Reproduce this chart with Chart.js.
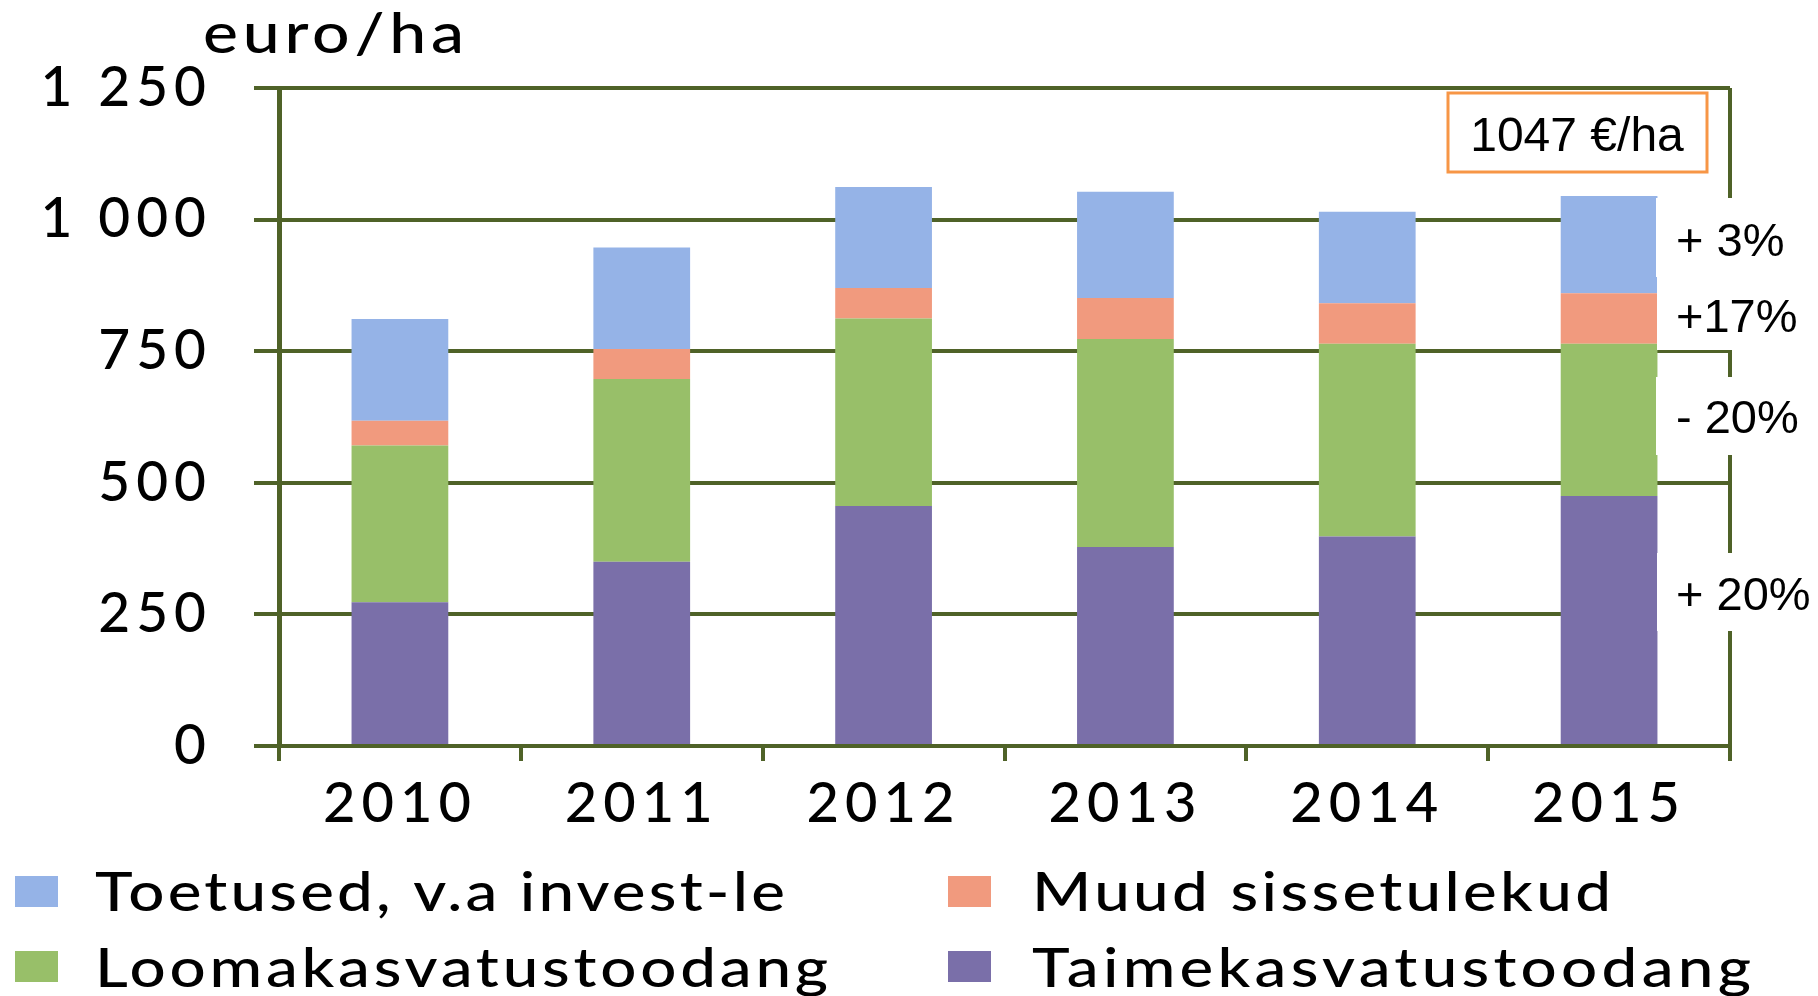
<!DOCTYPE html>
<html><head><meta charset="utf-8">
<script src="https://cdn.jsdelivr.net/npm/chart.js@4.4.1/dist/chart.umd.min.js"></script>
<style>html,body{margin:0;padding:0;background:#fff;overflow:hidden}#wrap{position:relative;width:1818px;height:996px}</style>
</head><body><div id="wrap"><canvas id="c" width="1818" height="996"></canvas></div>
<script>
// ---- data ----
const years = ['2010', '2011', '2012', '2013', '2014', '2015'];
const taimekasvatus = [273, 350, 456, 378, 398, 475];
const loomakasvatus = [298, 347, 356, 395, 366, 289];
const muudSissetulekud = [47, 57, 58, 78, 77, 96];
const toetused = [193, 193, 192, 202, 174, 185];
const yTickValues = [0, 250, 500, 750, 1000, 1250];
const yTickLabels = ['0', '250', '500', '750', '1 000', '1 250'];
const seriesLabels = ['Taimekasvatustoodang', 'Loomakasvatustoodang', 'Muud sissetulekud', 'Toetused, v.a invest-le'];
const yTitle = 'euro/ha';
const totalLabel = '1047 €/ha';
const changeLabels = ['+ 3%', '+17%', '- 20%', '+ 20%'];

// ---- styles ----
const OLIVE = '#4F6228';
const COLORS = ['#7A6FA9', '#98BF69', '#F19A7E', '#95B3E7'];
const FONT = 'Lato';

function fitText(ctx, text, x, y, width, sx) {
  ctx.save();
  ctx.letterSpacing = '0px';
  const w = ctx.measureText(text).width;
  const n = Array.from(text).length;
  const ls = n > 1 ? (width / sx - w) / (n - 1) : 0;
  ctx.letterSpacing = Math.max(0, ls).toFixed(2) + 'px';
  ctx.textAlign = 'left';
  ctx.translate(x, y);
  ctx.scale(sx, 1);
  ctx.fillText(text, 0, 0);
  ctx.restore();
}

const extras = {
  id: 'extras',
  beforeDraw(chart) { chart.ctx.letterSpacing = '6px'; },
  afterDraw(chart) {
    const ctx = chart.ctx;
    ctx.save();
    ctx.letterSpacing = '0px';
    ctx.textBaseline = 'alphabetic';
    ctx.fillStyle = '#000';
    // axis unit title
    ctx.font = '500 56px ' + FONT;
    fitText(ctx, yTitle, 203, 53, 261, 1.18);

    // white boxes behind change labels
    const boxes = [[1656, 198, 162, 79], [1657, 277, 161, 73], [1656, 377, 162, 78], [1657, 553, 161, 78]];
    ctx.fillStyle = '#fff';
    boxes.forEach(b => ctx.fillRect(b[0], b[1], b[2], b[3]));
    ctx.fillStyle = '#000';
    ctx.font = '47px "Liberation Sans", Arial, sans-serif';
    ctx.textAlign = 'left';
    const baselines = [256, 332, 433, 610];
    changeLabels.forEach((t, i) => ctx.fillText(t, 1676, baselines[i]));

    // total box
    ctx.fillStyle = '#fff';
    ctx.fillRect(1448, 93, 259, 79);
    ctx.strokeStyle = '#F79646';
    ctx.lineWidth = 3;
    ctx.strokeRect(1448, 93, 259, 79);
    ctx.fillStyle = '#000';
    ctx.font = '48px "Liberation Sans", Arial, sans-serif';
    ctx.textAlign = 'center';
    ctx.fillText(totalLabel, 1577, 151);

    // legend (two columns, two rows)
    const order = [3, 2, 1, 0];
    const markerX = [15, 948], textX = [95, 1032];
    const markerTop = [876, 951], baseline = [911, 987];
    const widths = [690, 579, 733, 719];
    ctx.font = '500 54px ' + FONT;
    order.forEach((di, k) => {
      const ds = chart.data.datasets[di];
      const col = k % 2, row = Math.floor(k / 2);
      ctx.fillStyle = ds.backgroundColor;
      ctx.fillRect(markerX[col], markerTop[row], 43, 31);
      ctx.fillStyle = '#000';
      fitText(ctx, ds.label, textX[col], baseline[row], widths[k], 1.18);
    });
    ctx.restore();
  }
};

function build() {
  const datasets = [taimekasvatus, loomakasvatus, muudSissetulekud, toetused].map((d, i) => ({
    label: seriesLabels[i], data: d, backgroundColor: COLORS[i], borderWidth: 0,
    barPercentage: 0.4, categoryPercentage: 1.0
  }));
  new Chart(document.getElementById('c'), {
    type: 'bar',
    data: { labels: years, datasets },
    plugins: [extras],
    options: {
      responsive: false, animation: false, devicePixelRatio: 1,
      layout: { padding: { top: 88, right: 88, left: 0, bottom: 0 } },
      plugins: { legend: { display: false }, tooltip: { enabled: false }, title: { display: false } },
      scales: {
        x: {
          stacked: true,
          afterFit: s => { s.height = 250; },
          grid: {
            offset: true, lineWidth: 4, tickLength: 15, tickWidth: 4, tickColor: OLIVE,
            color: c => (c.type !== 'tick' || c.index === 0) ? OLIVE : 'rgba(0,0,0,0)'
          },
          border: { display: true, color: OLIVE, width: 4 },
          ticks: { color: '#000', font: { family: FONT, size: 56, weight: 500 }, padding: 9, maxRotation: 0 }
        },
        y: {
          stacked: true, min: 0, max: 1250,
          afterFit: s => { s.width = 279; },
          afterBuildTicks: s => { s.ticks = yTickValues.map(v => ({ value: v })); },
          grid: { color: OLIVE, lineWidth: 4, tickLength: 25, tickWidth: 4, tickColor: OLIVE },
          border: { display: true, color: OLIVE, width: 5 },
          ticks: {
            color: '#000', font: { family: FONT, size: 55, weight: 500 }, padding: 42,
            callback: v => yTickLabels[yTickValues.indexOf(v)]
          }
        }
      }
    }
  });
}
(document.fonts && document.fonts.load ? Promise.all([document.fonts.load('500 54px Lato'), document.fonts.load('47px "Liberation Sans"')]).catch(() => {}) : Promise.resolve()).then(build);
</script></body></html>
